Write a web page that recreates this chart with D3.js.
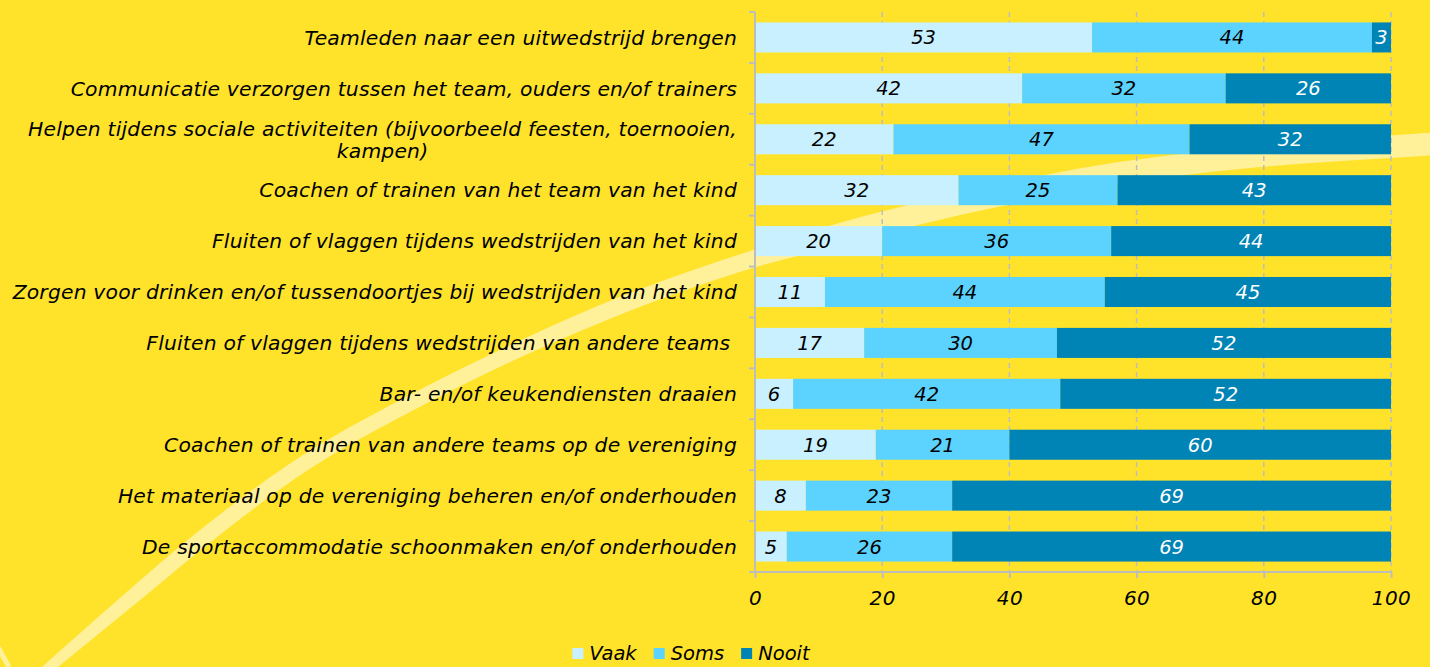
<!DOCTYPE html>
<html>
<head>
<meta charset="utf-8">
<script src="https://cdn.jsdelivr.net/npm/d3@7"></script>
<style>
  html, body { margin: 0; padding: 0; background: #FFE32B; }
  svg { display: block; }
  text { font-family: "DejaVu Sans", sans-serif; font-style: italic; }
</style>
</head>
<body>
<svg id="chart" width="1430" height="667"></svg>
<script>
// ---- data ----
const categories = [
  "Teamleden naar een uitwedstrijd brengen",
  "Communicatie verzorgen tussen het team, ouders en/of trainers",
  "Helpen tijdens sociale activiteiten (bijvoorbeeld feesten, toernooien,|kampen)",
  "Coachen of trainen van het team van het kind",
  "Fluiten of vlaggen tijdens wedstrijden van het kind",
  "Zorgen voor drinken en/of tussendoortjes bij wedstrijden van het kind",
  "Fluiten of vlaggen tijdens wedstrijden van andere teams ",
  "Bar- en/of keukendiensten draaien",
  "Coachen of trainen van andere teams op de vereniging",
  "Het materiaal op de vereniging beheren en/of onderhouden",
  "De sportaccommodatie schoonmaken en/of onderhouden"
];
const seriesNames = ["Vaak", "Soms", "Nooit"];
const vaak  = [53, 42, 22, 32, 20, 11, 17,  6, 19,  8,  5];
const soms  = [44, 32, 47, 25, 36, 44, 30, 42, 21, 23, 26];
const nooit = [ 3, 26, 32, 43, 44, 45, 52, 52, 60, 69, 69];
const xTicks = [0, 20, 40, 60, 80, 100];

// ---- styles ----
const colors = ["#C9F0FE", "#5CD3FE", "#0083B5"];
const labelColors = ["#000", "#000", "#fff"];
const axisColor = "#BDBDBD";
const swooshColor = "#FFF09A";

const svg = d3.select("#chart");

// background swoosh (decorative)
const topEdge = [[42,667],[120,598],[200,530],[300,457],[400,400],[500,350],[600,305],[753,250],[832,225],[908,205],[1000,184],[1100,165],[1250,147],[1440,132]];
const botEdge = [[58,667],[134,605],[212,541],[311,468],[410,412],[508,363],[607,320],[756,267],[850,243],[918,225],[1007,205],[1100,187],[1250,168],[1391,158],[1440,155]];
const lineGen = d3.line().curve(d3.curveMonotoneX);
const swooshD = lineGen(topEdge) + "L" + lineGen(botEdge.slice().reverse()).slice(1) + "Z";
svg.append("path").attr("d", swooshD).attr("fill", swooshColor);
svg.append("path").attr("d", lineGen([[-6,640],[9,667]]))
   .attr("fill", "none").attr("stroke", swooshColor).attr("stroke-width", 5);

// scales
const x = d3.scaleLinear().domain([0, 100]).range([755, 1391]);
const y = d3.scaleBand().domain(categories).range([12, 572]).paddingInner(0.41).paddingOuter(0.205);

// gridlines
svg.append("g").selectAll("line").data(xTicks.filter(d => d > 0)).join("line")
  .attr("x1", d => x(d)).attr("x2", d => x(d))
  .attr("y1", 12).attr("y2", 572)
  .attr("stroke", axisColor).attr("stroke-width", 1.5).attr("stroke-dasharray", "5,4");

// stacked data (normalized to 100)
const rows = categories.map((c, i) => ({ cat: c, Vaak: vaak[i], Soms: soms[i], Nooit: nooit[i] }));
const stack = d3.stack().keys(seriesNames).offset(d3.stackOffsetExpand);
const stacked = stack(rows);

const g = svg.append("g");
stacked.forEach((layer, si) => {
  const lg = g.append("g");
  lg.selectAll("rect").data(layer).join("rect")
    .attr("x", d => x(d[0] * 100))
    .attr("width", d => x(d[1] * 100) - x(d[0] * 100))
    .attr("y", d => y(d.data.cat))
    .attr("height", y.bandwidth())
    .attr("fill", colors[si]);
  lg.selectAll("text").data(layer).join("text")
    .attr("x", d => (x(d[0] * 100) + x(d[1] * 100)) / 2)
    .attr("y", d => y(d.data.cat) + y.bandwidth() / 2)
    .attr("dy", "0.36em")
    .attr("text-anchor", "middle")
    .attr("font-size", 19.5)
    .attr("fill", labelColors[si])
    .text(d => d.data[seriesNames[si]]);
});

// y axis
const axisG = svg.append("g");
axisG.append("line").attr("x1", 755).attr("x2", 755).attr("y1", 12).attr("y2", 572)
  .attr("stroke", axisColor).attr("stroke-width", 2);
const boundaries = d3.range(categories.length + 1).map(i => 12 + i * y.step());
axisG.selectAll("line.yt").data(boundaries).join("line").attr("class", "yt")
  .attr("x1", 749).attr("x2", 755).attr("y1", d => d).attr("y2", d => d)
  .attr("stroke", axisColor).attr("stroke-width", 2);

// x axis
const xAxis = d3.axisBottom(x).tickValues(xTicks).tickSize(6).tickPadding(13).tickFormat(d3.format("d"));
const xg = svg.append("g").attr("transform", "translate(0,572)").call(xAxis);
xg.select(".domain").attr("stroke", axisColor).attr("stroke-width", 2).attr("d", "M755,0H1391");
xg.selectAll(".tick line").attr("stroke", axisColor).attr("stroke-width", 2);
xg.selectAll(".tick text").attr("font-size", 20).attr("font-family", "DejaVu Sans")
  .attr("font-style", "italic").attr("fill", "#000").attr("letter-spacing", 0.5);

// category labels
const labG = svg.append("g");
const labSize = 20.3, labSpacing = 0.2;
categories.forEach(c => {
  const lines = c.split("|");
  const cy = y(c) + y.bandwidth() / 2;
  const lh = 22;
  const t = labG.append("text")
    .attr("font-size", labSize).attr("letter-spacing", labSpacing).attr("fill", "#000")
    .style("white-space", "pre");
  if (lines.length === 1) {
    t.attr("x", 737).attr("y", cy).attr("dy", "0.36em").attr("text-anchor", "end").text(lines[0]);
  } else {
    const tmp = labG.append("text").attr("font-size", labSize).attr("letter-spacing", labSpacing).text(lines[0]);
    const w0 = tmp.node().getComputedTextLength();
    tmp.remove();
    const cx = 737 - w0 / 2;
    lines.forEach((ln, li) => {
      t.append("tspan").attr("x", cx).attr("text-anchor", "middle")
        .attr("y", cy + (li - (lines.length - 1) / 2) * lh).attr("dy", "0.36em").text(ln);
    });
  }
});

// legend
const legG = svg.append("g");
const items = [];
seriesNames.forEach((s, i) => {
  const ig = legG.append("g");
  ig.append("rect").attr("x", 0).attr("y", -5).attr("width", 11).attr("height", 11).attr("fill", colors[i]);
  const tt = ig.append("text").attr("x", 17).attr("y", 0).attr("dy", "0.36em")
    .attr("font-size", 19.5).attr("fill", "#000").text(s);
  items.push({ ig, w: 17 + tt.node().getComputedTextLength() });
});
const gap = 17;
const total = d3.sum(items, d => d.w) + gap * (items.length - 1);
let start = 691 - total / 2;
items.forEach(it => { it.ig.attr("transform", `translate(${start},653)`); start += it.w + gap; });
</script>
</body>
</html>
